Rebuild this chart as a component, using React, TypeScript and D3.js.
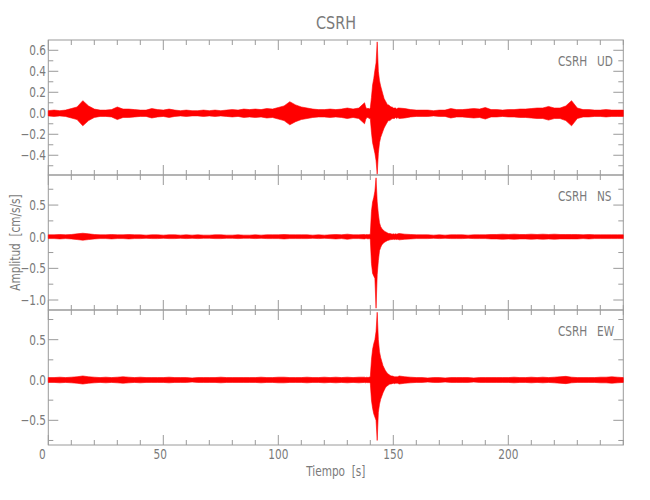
import React from "react";
import * as d3 from "d3";

const W = 650;
const H = 500;
const station = "CSRH";
const title = "CSRH";
const xLabel = "Tiempo\u00a0\u00a0[s]";
const yLabel = "Amplitud\u00a0\u00a0[cm/s/s]";
const components = ["UD", "NS", "EW"];
const xDomain = [0, 250];
const xMajorTicks = [0, 50, 100, 150, 200];
const xMinorTicks = d3.range(0, 251, 10);

// y axis ranges per component
const udDomain = [-0.588, 0.698];
const nsDomain = [-1.158, 0.975];
const ewDomain = [-0.806, 0.868];
const udMajor = [-0.4, -0.2, 0, 0.2, 0.4, 0.6];
const nsMajor = [-1.0, -0.5, 0, 0.5];
const ewMajor = [-0.5, 0, 0.5];
const udMinorStep = 0.1;
const nsMinorStep = 0.25;
const ewMinorStep = 0.25;

// sample times: background every 2.5 s, event window every 0.5 s
const timesBefore = d3.range(0, 136, 2.5);
const timesEvent = d3.range(137.5, 152.01, 0.5);
const timesAfter = d3.range(152.5, 250.01, 2.5);

// background half-width of the trace (envelope) before / after the event
const udBefore = [0.025, 0.03, 0.025, 0.03, 0.045, 0.06, 0.12, 0.07, 0.04, 0.03, 0.03, 0.035, 0.06, 0.04, 0.04, 0.035, 0.03, 0.03, 0.045, 0.035, 0.03, 0.04, 0.03, 0.025, 0.03, 0.025, 0.025, 0.03, 0.025, 0.03, 0.025, 0.03, 0.035, 0.03, 0.04, 0.035, 0.04, 0.035, 0.045, 0.04, 0.055, 0.07, 0.11, 0.08, 0.06, 0.05, 0.04, 0.035, 0.035, 0.04, 0.035, 0.04, 0.05, 0.04, 0.05];
const udAfter = [0.05, 0.045, 0.035, 0.03, 0.03, 0.03, 0.025, 0.03, 0.03, 0.045, 0.035, 0.035, 0.04, 0.045, 0.04, 0.055, 0.035, 0.035, 0.03, 0.035, 0.035, 0.04, 0.04, 0.045, 0.05, 0.05, 0.065, 0.05, 0.05, 0.07, 0.12, 0.05, 0.035, 0.035, 0.03, 0.03, 0.035, 0.03, 0.03, 0.03];
const udEventUp = [0.10, 0.06, 0.04, 0.05, 0.04, 0.05, 0.15, 0.27, 0.33, 0.41, 0.48, 0.68, 0.40, 0.31, 0.26, 0.22, 0.18, 0.14, 0.12, 0.10, 0.08, 0.08, 0.07, 0.06, 0.06, 0.05, 0.05, 0.05, 0.04, 0.05];
const udEventLo = [-0.10, -0.06, -0.04, -0.04, -0.05, -0.05, -0.18, -0.28, -0.33, -0.38, -0.45, -0.58, -0.38, -0.28, -0.23, -0.20, -0.17, -0.14, -0.12, -0.10, -0.08, -0.07, -0.07, -0.06, -0.05, -0.05, -0.05, -0.04, -0.05, -0.04];

const nsBefore = [0.03, 0.03, 0.035, 0.03, 0.035, 0.045, 0.055, 0.045, 0.035, 0.03, 0.03, 0.035, 0.03, 0.03, 0.035, 0.03, 0.03, 0.025, 0.03, 0.03, 0.025, 0.03, 0.03, 0.025, 0.03, 0.025, 0.03, 0.025, 0.025, 0.03, 0.03, 0.025, 0.025, 0.03, 0.025, 0.025, 0.03, 0.025, 0.03, 0.03, 0.03, 0.035, 0.03, 0.03, 0.03, 0.03, 0.025, 0.03, 0.025, 0.03, 0.035, 0.03, 0.04, 0.03, 0.03];
const nsAfter = [0.05, 0.04, 0.035, 0.03, 0.03, 0.03, 0.025, 0.03, 0.025, 0.03, 0.03, 0.03, 0.025, 0.03, 0.03, 0.03, 0.035, 0.035, 0.04, 0.035, 0.04, 0.035, 0.035, 0.04, 0.035, 0.04, 0.035, 0.04, 0.035, 0.035, 0.035, 0.035, 0.03, 0.035, 0.03, 0.03, 0.03, 0.03, 0.03, 0.03];
const nsEventUp = [0.035, 0.03, 0.035, 0.03, 0.035, 0.04, 0.40, 0.55, 0.62, 0.72, 0.93, 0.55, 0.36, 0.22, 0.16, 0.13, 0.11, 0.09, 0.08, 0.07, 0.06, 0.05, 0.05, 0.045, 0.04, 0.045, 0.04, 0.045, 0.04, 0.045];
const nsEventLo = [-0.035, -0.03, -0.03, -0.035, -0.03, -0.04, -0.42, -0.58, -0.62, -0.66, -1.13, -0.60, -0.38, -0.22, -0.17, -0.13, -0.11, -0.09, -0.08, -0.07, -0.06, -0.055, -0.05, -0.045, -0.045, -0.04, -0.045, -0.04, -0.045, -0.04];

const ewBefore = [0.03, 0.03, 0.035, 0.03, 0.035, 0.04, 0.05, 0.04, 0.035, 0.03, 0.035, 0.03, 0.035, 0.04, 0.035, 0.03, 0.035, 0.03, 0.03, 0.03, 0.03, 0.035, 0.03, 0.03, 0.03, 0.025, 0.03, 0.03, 0.03, 0.03, 0.035, 0.03, 0.03, 0.03, 0.03, 0.03, 0.03, 0.035, 0.03, 0.03, 0.035, 0.035, 0.03, 0.03, 0.03, 0.035, 0.03, 0.03, 0.035, 0.03, 0.035, 0.03, 0.035, 0.03, 0.035];
const ewAfter = [0.05, 0.04, 0.035, 0.03, 0.03, 0.025, 0.03, 0.03, 0.025, 0.03, 0.03, 0.03, 0.03, 0.025, 0.03, 0.03, 0.03, 0.03, 0.03, 0.03, 0.035, 0.03, 0.03, 0.035, 0.03, 0.035, 0.03, 0.035, 0.04, 0.045, 0.035, 0.03, 0.03, 0.03, 0.03, 0.035, 0.035, 0.04, 0.035, 0.03];
const ewEventUp = [0.035, 0.03, 0.035, 0.03, 0.035, 0.04, 0.25, 0.38, 0.45, 0.50, 0.60, 0.84, 0.50, 0.35, 0.28, 0.23, 0.18, 0.15, 0.12, 0.10, 0.08, 0.07, 0.06, 0.05, 0.05, 0.045, 0.04, 0.04, 0.04, 0.04];
const ewEventLo = [-0.03, -0.035, -0.03, -0.035, -0.03, -0.04, -0.25, -0.35, -0.42, -0.46, -0.50, -0.75, -0.40, -0.30, -0.24, -0.20, -0.16, -0.13, -0.10, -0.08, -0.07, -0.06, -0.05, -0.05, -0.045, -0.04, -0.045, -0.04, -0.04, -0.04];

type Pt = { t: number; up: number; lo: number };

function buildSeries(before: number[], evUp: number[], evLo: number[], after: number[]): Pt[] {
  const pts: Pt[] = [];
  timesBefore.forEach((t, i) => pts.push({ t, up: before[i], lo: -before[i] }));
  timesEvent.forEach((t, i) => pts.push({ t, up: evUp[i], lo: evLo[i] }));
  timesAfter.forEach((t, i) => pts.push({ t, up: after[i], lo: -after[i] }));
  return pts;
}

const panelsData = [
  { comp: components[0], domain: udDomain, major: udMajor, minorStep: udMinorStep, series: buildSeries(udBefore, udEventUp, udEventLo, udAfter) },
  { comp: components[1], domain: nsDomain, major: nsMajor, minorStep: nsMinorStep, series: buildSeries(nsBefore, nsEventUp, nsEventLo, nsAfter) },
  { comp: components[2], domain: ewDomain, major: ewMajor, minorStep: ewMinorStep, series: buildSeries(ewBefore, ewEventUp, ewEventLo, ewAfter) },
];

const FONT = "'DejaVu Sans', sans-serif";
const AXIS = "#9a9a9a";
const TEXT = "#7a7a7a";

function Label(props: { x: number; y: number; size: number; anchor?: string; rotate?: number; sx?: number; children: React.ReactNode }) {
  const { x, y, size, anchor = "start", rotate = 0, sx = 0.78, children } = props;
  return (
    <text
      transform={`translate(${x},${y}) rotate(${rotate}) scale(${sx},1)`}
      textAnchor={anchor}
      fontFamily={FONT}
      fontSize={size}
      fill={TEXT}
    >
      {children}
    </text>
  );
}

export default function App() {
  const left = 48.3;
  const right = 623.3;
  const top0 = 40;
  const ph = 135;
  const x = d3.scaleLinear().domain(xDomain).range([left, right]);
  const fmt = d3.format(".1f");

  return (
    <svg width={W} height={H} style={{ position: "absolute", left: 0, top: 0, background: "#fff" }}>
      <Label x={336} y={29} size={18} anchor="middle" sx={0.8}>{title}</Label>
      {panelsData.map((p, pi) => {
        const top = top0 + pi * ph;
        const bottom = top + ph;
        const y = d3.scaleLinear().domain(p.domain).range([bottom, top]);
        const area = d3.area<Pt>().x((d) => x(d.t)).y0((d) => y(d.lo)).y1((d) => y(d.up));
        const minor = d3.range(Math.ceil(p.domain[0] / p.minorStep) * p.minorStep, p.domain[1], p.minorStep);
        const isMajor = (v: number) => p.major.some((m) => Math.abs(m - v) < 1e-6);
        return (
          <g key={p.comp}>
            <rect x={left} y={top} width={right - left} height={ph} fill="none" stroke={AXIS} strokeWidth={1} />
            {xMinorTicks.map((v) => {
              const len = xMajorTicks.includes(v) ? 10 : 5;
              return (
                <g key={"xt" + v} stroke={AXIS}>
                  <line x1={x(v)} x2={x(v)} y1={top} y2={top + len} />
                  <line x1={x(v)} x2={x(v)} y1={bottom} y2={bottom - len} />
                </g>
              );
            })}
            {minor.map((v) => {
              const len = isMajor(v) ? 10 : 5;
              return (
                <g key={"yt" + v} stroke={AXIS}>
                  <line x1={left} x2={left + len} y1={y(v)} y2={y(v)} />
                  <line x1={right} x2={right - len} y1={y(v)} y2={y(v)} />
                </g>
              );
            })}
            {p.major.map((v) => (
              <Label key={"yl" + v} x={46} y={y(v) + 5} size={13.5} anchor="end">
                {fmt(v)}
              </Label>
            ))}
            <path d={area(p.series) || ""} fill="#ff0000" stroke="#ff0000" strokeWidth={0.6} />
            <Label x={558} y={top + 26} size={13.5}>{station}</Label>
            <Label x={597} y={top + 26} size={13.5}>{p.comp}</Label>
          </g>
        );
      })}
      {xMajorTicks.map((v) => (
        <Label key={"xl" + v} x={x(v) - (v === 0 ? 6 : v === 50 ? 3 : 0)} y={458.5} size={13.5} anchor="middle">
          {String(v)}
        </Label>
      ))}
      <Label x={(left + right) / 2} y={476} size={13.5} anchor="middle">{xLabel}</Label>
      <Label x={20} y={242.5} size={13.5} anchor="middle" rotate={-90}>{yLabel}</Label>
    </svg>
  );
}
